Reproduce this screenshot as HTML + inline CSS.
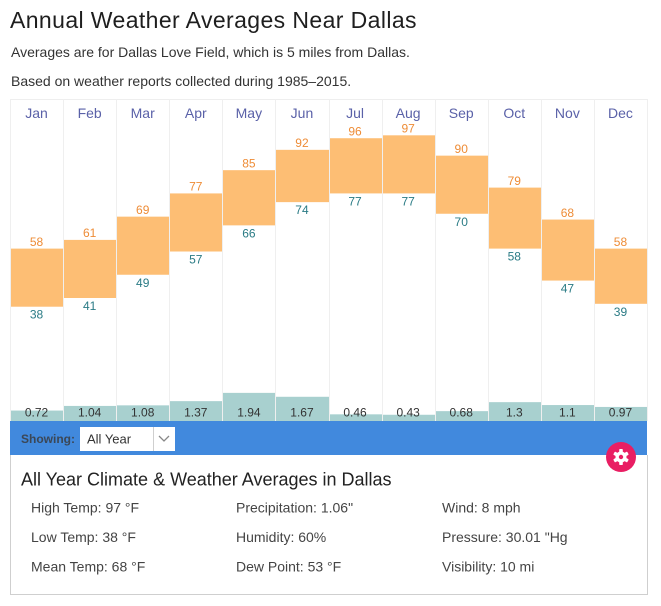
<!DOCTYPE html>
<html><head><meta charset="utf-8"><style>
html,body{margin:0;padding:0;background:#fff;}
body{width:661px;height:606px;overflow:hidden;font-family:"Liberation Sans",Arial,sans-serif;}
svg{display:block;}
</style></head><body>
<svg width="661" height="606" viewBox="0 0 661 606" xmlns="http://www.w3.org/2000/svg" font-family="Liberation Sans, Arial, sans-serif">
<text x="10" y="28" font-size="23" letter-spacing="0.4" fill="#1e1e1e">Annual Weather Averages Near Dallas</text>
<text x="11" y="57" font-size="14" fill="#333">Averages are for Dallas Love Field, which is 5 miles from Dallas.</text>
<text x="11" y="86" font-size="14" fill="#333">Based on weather reports collected during 1985–2015.</text>
<line x1="10" y1="99.5" x2="647" y2="99.5" stroke="#eeeeee" stroke-width="1"/>
<g id="grid" stroke="#efefef" stroke-width="1"></g>
<g id="boxes"></g>
<g id="labels"></g>
<rect x="10" y="421" width="637" height="34" fill="#4189dd"/>
<text x="21" y="443" font-size="12" font-weight="bold" fill="#3b4756">Showing:</text>
<rect x="80" y="427" width="95" height="24" fill="#fff"/>
<line x1="153.5" y1="427" x2="153.5" y2="451" stroke="#cfcfcf"/>
<polyline points="159,436 164,441 169,436" fill="none" stroke="#888" stroke-width="1.3"/>
<text x="87" y="443.5" font-size="13" fill="#333">All Year</text>
<path d="M10.5 455 V594.5 H647.5 V455" fill="none" stroke="#cfcfcf" stroke-width="1"/>
<circle cx="621" cy="457" r="15" fill="#e91e63"/>
<g transform="translate(621,457)" fill="#fff">
<circle r="5.5"/>
<rect x="-1.8" y="-8" width="3.6" height="16" rx="0.8"/>
<rect x="-1.8" y="-8" width="3.6" height="16" rx="0.8" transform="rotate(60)"/>
<rect x="-1.8" y="-8" width="3.6" height="16" rx="0.8" transform="rotate(120)"/>
<circle r="2.2" fill="#e91e63"/>
</g>
<text x="21" y="485.5" font-size="18" fill="#222">All Year Climate &amp; Weather Averages in Dallas</text>
<g font-size="14" fill="#444">
<text x="31" y="512.5">High Temp: 97 °F</text>
<text x="31" y="542">Low Temp: 38 °F</text>
<text x="31" y="571.5">Mean Temp: 68 °F</text>
<text x="236" y="512.5">Precipitation: 1.06"</text>
<text x="236" y="542">Humidity: 60%</text>
<text x="236" y="571.5">Dew Point: 53 °F</text>
<text x="442" y="512.5">Wind: 8 mph</text>
<text x="442" y="542">Pressure: 30.01 "Hg</text>
<text x="442" y="571.5">Visibility: 10 mi</text>
</g>
</svg>
<script>
(function(){
var NS="http://www.w3.org/2000/svg";
var months=["Jan","Feb","Mar","Apr","May","Jun","Jul","Aug","Sep","Oct","Nov","Dec"];
var hi=[58,61,69,77,85,92,96,97,90,79,68,58];
var lo=[38,41,49,57,66,74,77,77,70,58,47,39];
var pr=["0.72","1.04","1.08","1.37","1.94","1.67","0.46","0.43","0.68","1.3","1.1","0.97"];
var W=637/12;
function y(t){return 417.1-2.905*t;}
function el(n,a,p,txt){var e=document.createElementNS(NS,n);for(var k in a)e.setAttribute(k,a[k]);if(txt!=null)e.textContent=txt;p.appendChild(e);return e;}
var g=document.getElementById("grid"),b=document.getElementById("boxes"),l=document.getElementById("labels");
for(var i=0;i<=12;i++){var x=Math.round(10+i*W)+0.5;el("line",{x1:x,y1:99,x2:x,y2:421},g);}
for(var i=0;i<12;i++){
 var x0=Math.round(10+i*W)+1,x1=Math.round(10+(i+1)*W);
 var cx=10+(i+0.5)*W;
 var yt=y(hi[i]),yb=y(lo[i]);
 el("rect",{x:x0,y:yt,width:x1-x0,height:yb-yt,fill:"#fdbe74"},b);
 var p=parseFloat(pr[i])*14.5;
 el("rect",{x:x0,y:421-p,width:x1-x0,height:p,fill:"#a8d0cf"},b);
 el("text",{x:cx,y:118,"font-size":14,fill:"#5a61a8","text-anchor":"middle"},l,months[i]);
 el("text",{x:cx,y:yt-2.8,"font-size":12,fill:"#ee8c36","text-anchor":"middle"},l,String(hi[i]));
 el("text",{x:cx,y:yb+12,"font-size":12,fill:"#2a7b85","text-anchor":"middle"},l,String(lo[i]));
 el("text",{x:cx,y:416.5,"font-size":12,fill:"#333","text-anchor":"middle"},l,pr[i]);
}
})();
</script>
</body></html>
